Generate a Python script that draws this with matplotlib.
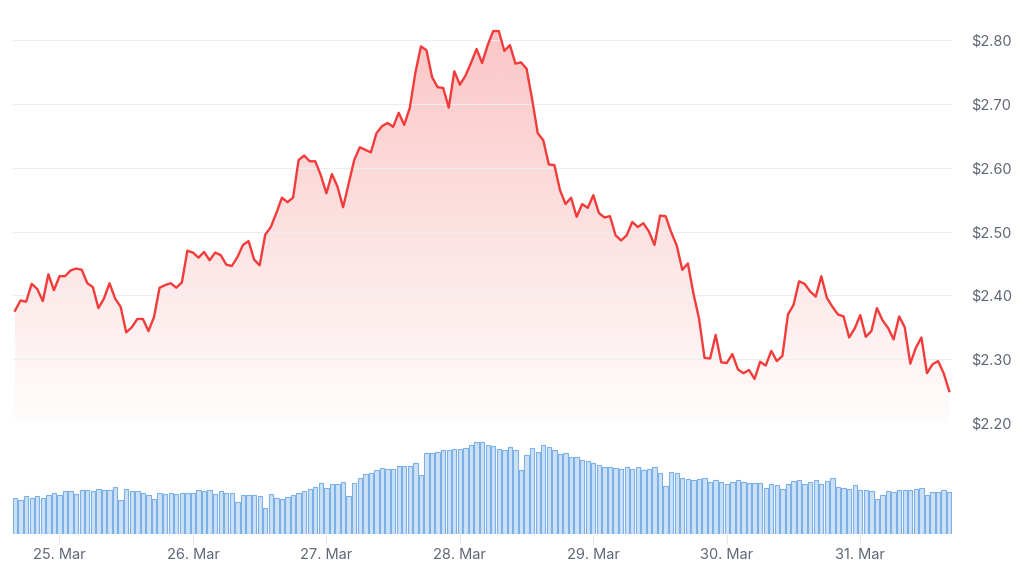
import numpy as np
import pandas as pd
import matplotlib
matplotlib.use("Agg")
import matplotlib.pyplot as plt
import matplotlib.dates as mdates
from matplotlib.colors import to_rgb
from matplotlib.ticker import FuncFormatter

plt.rcParams['font.family'] = ['Inter', 'DejaVu Sans']

# hourly closes, starting 24 Mar 16:00
price = [
    2.376, 2.392, 2.390, 2.418, 2.410, 2.391, 2.433, 2.408, 2.430, 2.430,
    2.439, 2.442, 2.440, 2.419, 2.413, 2.380, 2.395, 2.419, 2.395, 2.382,
    2.342, 2.350, 2.363, 2.363, 2.344, 2.366, 2.412, 2.416, 2.419, 2.412,
    2.420, 2.470, 2.467, 2.459, 2.468, 2.455, 2.467, 2.463, 2.448, 2.446,
    2.460, 2.479, 2.485, 2.456, 2.447, 2.495, 2.507, 2.529, 2.553, 2.546,
    2.553, 2.612, 2.619, 2.610, 2.610, 2.588, 2.560, 2.590, 2.570, 2.538,
    2.575, 2.612, 2.632, 2.628, 2.624, 2.654, 2.665, 2.670, 2.664, 2.686,
    2.667, 2.694, 2.749, 2.790, 2.784, 2.742, 2.726, 2.725, 2.694, 2.751,
    2.730, 2.744, 2.764, 2.786, 2.764, 2.792, 2.814, 2.814, 2.783, 2.792,
    2.763, 2.765, 2.755, 2.707, 2.654, 2.643, 2.605, 2.604, 2.565, 2.543,
    2.553, 2.523, 2.543, 2.537, 2.557, 2.529, 2.522, 2.524, 2.494, 2.486,
    2.494, 2.515, 2.507, 2.513, 2.500, 2.479, 2.525, 2.524, 2.499, 2.478,
    2.440, 2.450, 2.403, 2.364, 2.302, 2.301, 2.338, 2.295, 2.294, 2.308,
    2.284, 2.278, 2.283, 2.269, 2.296, 2.290, 2.313, 2.297, 2.305, 2.370,
    2.385, 2.422, 2.418, 2.406, 2.398, 2.430, 2.396, 2.382, 2.370, 2.367,
    2.334, 2.348, 2.369, 2.335, 2.344, 2.380, 2.361, 2.349, 2.331, 2.367,
    2.350, 2.293, 2.318, 2.334, 2.278, 2.292, 2.297, 2.278, 2.250,
]

# hourly volume (relative units)
volume = [
    108, 101, 113, 108, 113, 108, 116, 123, 116, 128,
    128, 120, 131, 131, 128, 135, 131, 131, 140, 101,
    135, 128, 128, 123, 116, 105, 123, 120, 123, 121,
    123, 123, 123, 131, 128, 131, 120, 128, 123, 123,
    97, 116, 116, 116, 113, 78, 120, 108, 105, 111,
    116, 123, 128, 135, 141, 153, 138, 150, 150, 155,
    113, 153, 168, 180, 183, 191, 198, 195, 195, 203,
    203, 203, 213, 176, 243, 243, 246, 251, 253, 255,
    255, 258, 268, 276, 276, 266, 263, 256, 251, 261,
    251, 191, 236, 258, 246, 268, 261, 251, 240, 243,
    231, 231, 223, 220, 213, 206, 201, 201, 198, 195,
    201, 195, 201, 191, 195, 201, 183, 143, 186, 183,
    168, 165, 161, 165, 168, 156, 163, 155, 151, 155,
    161, 156, 153, 153, 153, 138, 150, 146, 135, 150,
    160, 163, 151, 156, 163, 151, 158, 168, 141, 138,
    135, 146, 131, 133, 128, 105, 116, 128, 125, 133,
    131, 133, 135, 138, 116, 127, 125, 133, 127,
]

price_ticks = [2.20, 2.30, 2.40, 2.50, 2.60, 2.70, 2.80]

times = pd.date_range('2025-03-24 16:00', periods=len(price), freq='h')
x = mdates.date2num(times.to_pydatetime())
hour = 1 / 24

red = '#f23b3b'
label_color = '#5f6675'

fig = plt.figure(figsize=(10.24, 5.76), dpi=100)
W, H = 1024, 576
left, right = 13, 952

# price panel
ax = fig.add_axes([left / W, (H - 423) / H, (right - left) / W, (423 - 20) / H])
y_lo = price_ticks[0]
y_hi = y_lo + 403 / 638.3
xmin, xmax = x[0] - 0.36 * hour, x[-1] + 0.5 * hour

grad = np.linspace(0.015, 0.30, 256).reshape(-1, 1)
rgba = np.zeros((256, 1, 4))
rgba[..., :3] = to_rgb(red)
rgba[..., 3] = grad
im = ax.imshow(rgba, aspect='auto', extent=[xmin, xmax, y_lo, y_hi],
               origin='lower', zorder=1, interpolation='bilinear')
poly = ax.fill_between(x, price, y_lo, color='none', lw=0)
im.set_clip_path(poly.get_paths()[0], transform=ax.transData)
ax.plot(x, price, color=red, lw=1.7, zorder=3, solid_joinstyle='round')

ax.set_xlim(xmin, xmax)
ax.set_ylim(y_lo, y_hi)
ax.set_yticks(price_ticks)
ax.yaxis.tick_right()
ax.yaxis.set_major_formatter(FuncFormatter(lambda v, p: f"${v:.2f}"))
ax.tick_params(axis='y', length=0, pad=14, labelsize=10.5, labelcolor=label_color)
ax.set_xticks([])
ax.grid(axis='y', color='#eceef2', lw=0.8, zorder=0)
for s in ax.spines.values():
    s.set_visible(False)

# volume panel
axv = fig.add_axes([left / W, (H - 534) / H, (right - left) / W, (534 - 430) / H])
axv.bar(x, volume, width=0.78 * hour, color='#cde1f6', edgecolor='#7cb0e8', lw=0.8)
axv.set_xlim(xmin, xmax)
axv.set_ylim(0, max(volume) * 1.13)
axv.set_yticks([])
axv.xaxis.set_major_locator(mdates.DayLocator())
axv.xaxis.set_major_formatter(mdates.DateFormatter('%d. %b'))
axv.tick_params(axis='x', length=7, width=0.8, color='#e3e6eb', pad=3,
                labelsize=10.5, labelcolor=label_color)
for s in axv.spines.values():
    s.set_visible(False)

fig.savefig('out.png', dpi=100, facecolor='white')
